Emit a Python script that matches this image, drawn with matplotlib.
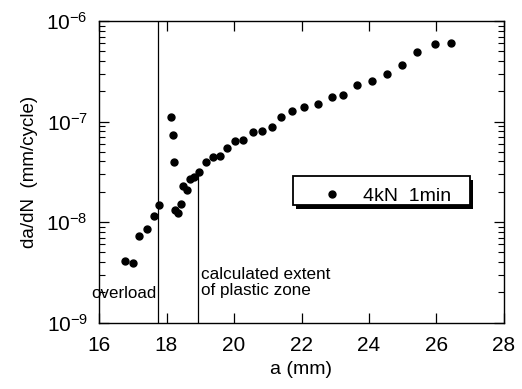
import matplotlib
matplotlib.use("Agg")
import matplotlib.pyplot as plt
from matplotlib.patches import Rectangle
import numpy as np

plt.rcParams['font.family'] = ['Liberation Sans', 'DejaVu Sans']
plt.rcParams['axes.unicode_minus'] = False

# crack length a (mm)
a_mm = [16.77, 17.01, 17.19, 17.42, 17.63, 17.78,
        18.13, 18.19, 18.22, 18.25, 18.34, 18.43,
        18.49, 18.61, 18.70, 18.81, 18.96, 19.17,
        19.38, 19.59, 19.79, 20.03, 20.27, 20.56,
        20.83, 21.13, 21.39, 21.72, 22.07, 22.49,
        22.90, 23.23, 23.64, 24.09, 24.53, 24.98,
        25.42, 25.96, 26.43]
# crack growth rate da/dN (mm/cycle)
dadn = [4.05e-9, 3.87e-9, 7.2e-9, 8.45e-9, 1.16e-8, 1.47e-8,
        1.10e-7, 7.3e-8, 3.93e-8, 1.31e-8, 1.22e-8, 1.50e-8,
        2.27e-8, 2.07e-8, 2.66e-8, 2.79e-8, 3.13e-8, 3.94e-8,
        4.41e-8, 4.51e-8, 5.42e-8, 6.37e-8, 6.52e-8, 7.83e-8,
        8.02e-8, 8.78e-8, 1.10e-7, 1.27e-7, 1.39e-7, 1.49e-7,
        1.75e-7, 1.83e-7, 2.30e-7, 2.52e-7, 2.96e-7, 3.64e-7,
        4.91e-7, 5.90e-7, 6.04e-7]
series_label = "4kN  1min"

overload_a = 17.74
plastic_zone_a = 18.94
plastic_zone_top = 3.1e-8

xticks = [16, 18, 20, 22, 24, 26, 28]

fig = plt.figure(figsize=(5.22, 3.89), dpi=100)
ax = fig.add_axes([99/522, 1 - 322.5/389, 405/522, 301.5/389])

ax.set_yscale('log')
ax.set_xlim(16, 28)
ax.set_ylim(1e-9, 1e-6)

ax.plot(a_mm, dadn, 'o', color='black', markersize=5, label=series_label, zorder=3)

ax.axvline(overload_a, color='black', linewidth=0.9)
ax.vlines(plastic_zone_a, 1e-9, plastic_zone_top, color='black', linewidth=0.9)

ax.text(overload_a - 0.04, 1.95e-9, "overload", ha='right', va='center',
        fontsize=12.2, clip_on=False)
ax.text(plastic_zone_a + 0.09, 2.5e-9, "calculated extent\nof plastic zone",
        ha='left', va='center', fontsize=12.3, linespacing=1.1)

ax.set_xticks(xticks)
ax.set_xticklabels([str(t) for t in xticks])
ax.tick_params(axis='x', which='major', direction='in', top=True, bottom=True,
               length=7, width=0.9, labelsize=15, pad=10)
ax.tick_params(axis='y', which='major', direction='in', left=True, right=True,
               length=7, width=0.9, labelsize=15, pad=8)
ax.xaxis.set_minor_locator(matplotlib.ticker.NullLocator())
ax.yaxis.set_minor_locator(matplotlib.ticker.LogLocator(base=10, subs=np.arange(2, 10)))
ax.yaxis.set_minor_formatter(matplotlib.ticker.NullFormatter())
ax.tick_params(axis='y', which='minor', direction='in', left=True, right=True,
               length=4, width=0.8)

for s in ax.spines.values():
    s.set_linewidth(1.0)

ax.set_xlabel("a (mm)", fontsize=14, labelpad=4)
ax.set_ylabel("da/dN  (mm/cycle)", fontsize=13.5, labelpad=6)

# legend box with solid shadow (axes fraction)
bx0, by0, bw, bh = 0.479, 0.390, 0.437, 0.096
ax.add_patch(Rectangle((bx0 + 0.0075, by0 - 0.013), bw, bh, transform=ax.transAxes,
                       facecolor='black', edgecolor='black', linewidth=0, zorder=4))
ax.add_patch(Rectangle((bx0, by0), bw, bh, transform=ax.transAxes,
                       facecolor='white', edgecolor='black', linewidth=1.3, zorder=5))

leg = ax.legend(loc='center left', bbox_to_anchor=(0.551, 0.418), fontsize=14,
                frameon=False, handlelength=1.0, handletextpad=1.09,
                borderpad=0, borderaxespad=0, numpoints=1)
leg.set_zorder(6)

fig.savefig("out.png", dpi=100)
